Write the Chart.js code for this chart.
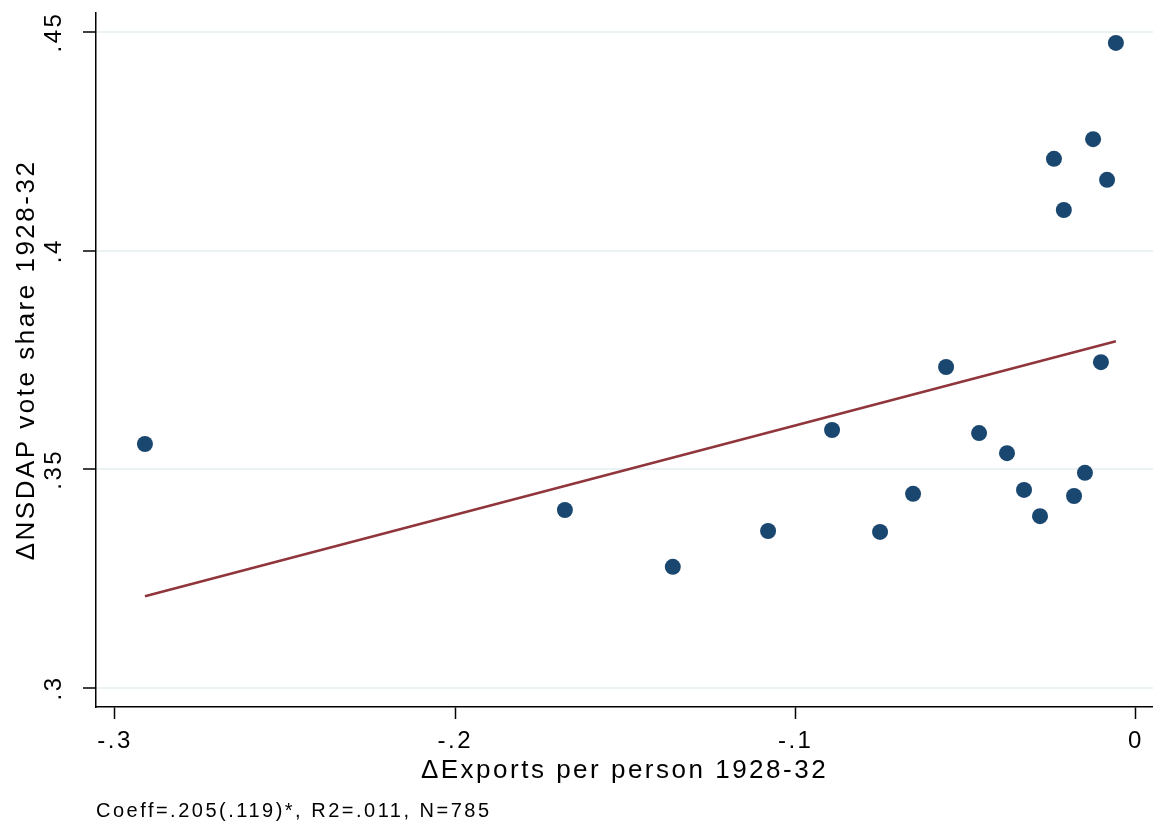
<!DOCTYPE html>
<html>
<head>
<meta charset="utf-8">
<script src="https://cdn.jsdelivr.net/npm/chart.js@4.4.1/dist/chart.umd.min.js"></script>
<style>
  html, body { margin: 0; padding: 0; background: #fff; }
  #wrap { width: 1153px; height: 825px; position: relative; }
</style>
</head>
<body>
<div id="wrap"><canvas id="chart-area"></canvas></div>
<script>
// district level changes 1928-32
var exportsChange = [-0.2912, -0.1678, -0.1361, -0.1081, -0.0893, -0.0752, -0.0655, -0.0558, -0.0461, -0.0379,
                     -0.0329, -0.0282, -0.0182, -0.0150, -0.0103, -0.0241, -0.0212, -0.0126, -0.0085, -0.0059];
var voteChange = [0.3558, 0.3407, 0.3277, 0.3359, 0.3590, 0.3357, 0.3444, 0.3734, 0.3583, 0.3537,
                  0.3453, 0.3393, 0.3439, 0.3492, 0.3745, 0.4210, 0.4093, 0.4255, 0.4162, 0.4475];

// fitted line end points
var fitX = [-0.2912, -0.0059];
var fitY = [0.3210, 0.3793];

var xTicks = [-0.3, -0.2, -0.1, 0];
var xTickLabels = ['-.3', '-.2', '-.1', '0'];
var yTicks = [0.3, 0.35, 0.4, 0.45];
var yTickLabels = ['.3', '.35', '.4', '.45'];

var noteText = 'Coeff=.205(.119)*, R2=.011, N=785';

var points = [];
for (var i = 0; i < exportsChange.length; i++) {
    points.push({x: exportsChange[i], y: voteChange[i]});
}
var fitPoints = [];
for (var j = 0; j < fitX.length; j++) {
    fitPoints.push({x: fitX[j], y: fitY[j]});
}

// stata text is drawn wide, spread the letters a bit
var spacing = {
    id: 'spacing',
    beforeUpdate: function(chart) { chart.ctx.letterSpacing = '2.5px'; },
    beforeDraw: function(chart) { chart.ctx.letterSpacing = '2.5px'; }
};

Chart.defaults.font.family = '"Liberation Sans", Arial, sans-serif';
Chart.defaults.color = '#000';

var config = {
    type: 'scatter',
    data: {
        datasets: [{
            type: 'line',
            data: fitPoints,
            borderColor: '#90353b',
            borderWidth: 2.5,
            pointRadius: 0,
            fill: false
        }, {
            data: points,
            backgroundColor: '#1a476f',
            borderWidth: 0,
            pointRadius: 8
        }]
    },
    options: {
        responsive: true,
        maintainAspectRatio: false,
        animation: false,
        layout: {
            autoPadding: false,
            padding: { top: 13, left: 0, right: 0, bottom: 0 }
        },
        plugins: {
            legend: { display: false },
            tooltip: { enabled: false },
            title: {
                display: true,
                position: 'bottom',
                align: 'start',
                fullSize: false,
                text: noteText,
                color: '#000',
                font: { size: 20, weight: 'normal' },
                padding: { top: 0, bottom: 2 }
            }
        },
        scales: {
            x: {
                type: 'linear',
                min: -0.30558,
                max: 0.005,
                afterBuildTicks: function(scale) {
                    scale.ticks = xTicks.map(function(v) { return {value: v}; });
                },
                afterFit: function(scale) {
                    scale.height = 92;
                    scale.paddingLeft = 0;
                    scale.paddingRight = 0;
                },
                ticks: {
                    font: { size: 24 },
                    padding: 8,
                    maxRotation: 0,
                    callback: function(value, index) { return xTickLabels[index]; }
                },
                grid: {
                    drawOnChartArea: false,
                    tickColor: '#000',
                    tickLength: 12,
                    tickWidth: 1.5
                },
                border: { color: '#000', width: 1.5 },
                title: {
                    display: true,
                    text: '\u0394Exports per person 1928-32',
                    font: { size: 26 },
                    padding: { top: 0, bottom: 13 }
                }
            },
            y: {
                type: 'linear',
                min: 0.29566,
                max: 0.45434,
                afterBuildTicks: function(scale) {
                    scale.ticks = yTicks.map(function(v) { return {value: v}; });
                },
                afterFit: function(scale) {
                    scale.width = 96;
                    scale.paddingTop = 0;
                    scale.paddingBottom = 0;
                },
                ticks: {
                    font: { size: 24 },
                    padding: 8,
                    minRotation: 90,
                    maxRotation: 90,
                    crossAlign: 'center',
                    callback: function(value, index) { return yTickLabels[index]; }
                },
                grid: {
                    color: '#eaf2f3',
                    lineWidth: 2,
                    tickColor: '#000',
                    tickLength: 13,
                    tickWidth: 1.5
                },
                border: { color: '#000', width: 1.5 },
                title: {
                    display: true,
                    text: '\u0394NSDAP vote share 1928-32',
                    font: { size: 26 },
                    padding: { top: 11, bottom: 0 }
                }
            }
        }
    },
    plugins: [spacing]
};

var ctx = document.getElementById('chart-area').getContext('2d');
window.myScatter = new Chart(ctx, config);
</script>
</body>
</html>
